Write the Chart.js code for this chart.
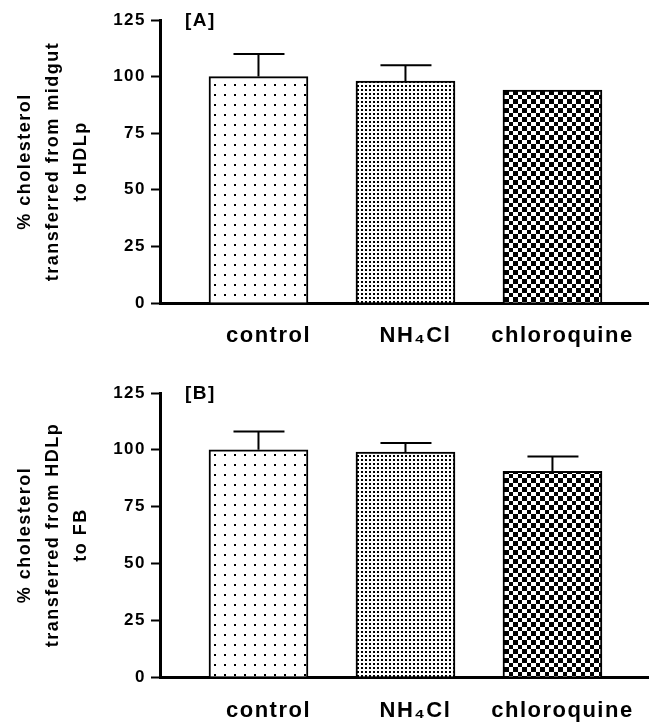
<!DOCTYPE html>
<html>
<head>
<meta charset="utf-8">
<script src="https://cdn.jsdelivr.net/npm/chart.js@4.4.1/dist/chart.umd.min.js"></script>
<style>
  body { margin: 0; background: #fff; }
  .panel { position: relative; width: 651px; }
  #panelA { height: 370px; }
  #panelB { height: 355px; }
</style>
</head>
<body>
<div class="panel" id="panelA"><canvas id="chart-a"></canvas></div>
<div class="panel" id="panelB"><canvas id="chart-b"></canvas></div>
<script>
// Cholesterol transfer bar charts, two panels

const categories = ['control', 'NH\u2084Cl', 'chloroquine'];
const yTicks = [0, 25, 50, 75, 100, 125];

// Panel A - midgut to HDLp
const valuesA = [100, 98, 94];
const errorsA = [10, 7, 0];
const titleA = ['% cholesterol', 'transferred from midgut', 'to HDLp'];

// Panel B - HDLp to fat body
const valuesB = [100, 99, 90.5];
const errorsB = [8, 4, 6.5];
const titleB = ['% cholesterol', 'transferred from HDLp', 'to FB'];

const FONT = '"Liberation Sans", Arial, sans-serif';

Chart.defaults.font.family = FONT;
Chart.defaults.font.weight = 'bold';
Chart.defaults.color = '#000';
Chart.defaults.plugins.legend.display = false;
Chart.defaults.plugins.tooltip.enabled = false;
Chart.defaults.animation = false;

// Fill patterns like the original print
function makePattern(size, draw) {
    const c = document.createElement('canvas');
    c.width = size;
    c.height = size;
    const g = c.getContext('2d');
    g.fillStyle = '#fff';
    g.fillRect(0, 0, size, size);
    g.fillStyle = '#000';
    draw(g);
    return c.getContext('2d').createPattern(c, 'repeat');
}

const sparseDots = makePattern(10, g => g.fillRect(4, 4, 2, 2));
const denseDots = makePattern(4, g => g.fillRect(1, 1, 2, 2));
const checker = makePattern(9, g => {
    g.fillRect(0, 0, 5, 5);
    g.fillRect(5, 5, 4, 4);
});

// Spaced lettering as in the figure
const spacingPlugin = {
    id: 'spacing',
    beforeLayout(chart) { chart.ctx.letterSpacing = '1.5px'; },
    beforeDraw(chart) { chart.ctx.letterSpacing = '1.5px'; }
};

// Upward error bars with caps
const errorBarPlugin = {
    id: 'errorBars',
    afterDatasetsDraw(chart, args, opts) {
        const ctx = chart.ctx;
        const xs = chart.scales.x;
        const ys = chart.scales.y;
        ctx.save();
        ctx.strokeStyle = '#000';
        ctx.lineWidth = 2;
        opts.values.forEach((v, i) => {
            if (!opts.errors[i]) return;
            const x = xs.getPixelForValue(i);
            const y0 = ys.getPixelForValue(v);
            const y1 = ys.getPixelForValue(v + opts.errors[i]);
            ctx.beginPath();
            ctx.moveTo(x, y0);
            ctx.lineTo(x, y1);
            ctx.moveTo(x - 25, y1);
            ctx.lineTo(x + 26, y1);
            ctx.stroke();
        });
        ctx.restore();
    }
};

// Panel tag [A] / [B]
const tagPlugin = {
    id: 'tag',
    afterDraw(chart, args, opts) {
        const ctx = chart.ctx;
        ctx.save();
        ctx.letterSpacing = '1.5px';
        ctx.font = 'bold 19px ' + FONT;
        ctx.fillStyle = '#000';
        ctx.textBaseline = 'middle';
        ctx.fillText(opts.text, chart.chartArea.left + 25, chart.chartArea.top + 1);
        ctx.restore();
    }
};

function initPanel(id, values, errors, title, tag, topPad, axisHeight, labelPad) {
    const ctx = document.getElementById(id);
    if (!ctx) return;

    new Chart(ctx, {
        type: 'bar',
        data: {
            datasets: [{
                data: values.map((v, i) => ({ x: i, y: v })),
                backgroundColor: [sparseDots, denseDots, checker],
                borderColor: '#000',
                borderWidth: 2,
                borderSkipped: 'bottom',
                barThickness: 99
            }]
        },
        plugins: [spacingPlugin, errorBarPlugin, tagPlugin],
        options: {
            responsive: true,
            maintainAspectRatio: false,
            layout: {
                padding: { top: topPad, right: 3, left: 0, bottom: 0 }
            },
            scales: {
                x: {
                    type: 'linear',
                    offset: false,
                    min: -0.67,
                    max: 2.65,
                    afterBuildTicks: scale => {
                        scale.ticks = categories.map((c, i) => ({ value: i }));
                    },
                    afterFit: scale => { scale.height = axisHeight; },
                    grid: { display: false, drawTicks: false, offset: false },
                    border: { display: true, color: '#000', width: 3 },
                    ticks: {
                        padding: labelPad,
                        labelOffset: 10,
                        maxRotation: 0,
                        autoSkip: false,
                        font: { size: 22, weight: 'bold' },
                        callback: value => categories[value]
                    }
                },
                y: {
                    min: 0,
                    max: 125,
                    afterBuildTicks: scale => {
                        scale.ticks = yTicks.map(v => ({ value: v }));
                    },
                    afterFit: scale => { scale.width = 160; },
                    grid: {
                        display: true,
                        drawOnChartArea: false,
                        drawTicks: true,
                        tickLength: 9,
                        tickWidth: 2,
                        color: '#000'
                    },
                    border: { display: true, color: '#000', width: 3 },
                    ticks: {
                        padding: 5,
                        font: { size: 17, weight: 'bold' }
                    },
                    title: {
                        display: true,
                        text: title,
                        padding: { top: 11, bottom: 0 },
                        font: { size: 18, weight: 'bold', lineHeight: 1.55 }
                    }
                }
            },
            plugins: {
                errorBars: { values: values, errors: errors },
                tag: { text: tag }
            }
        }
    });
}

document.addEventListener('DOMContentLoaded', function() {
    initPanel('chart-a', valuesA, errorsA, titleA, '[A]', 20, 67, 20);
    initPanel('chart-b', valuesB, errorsB, titleB, '[B]', 23, 48, 21);
});
</script>
</body>
</html>
